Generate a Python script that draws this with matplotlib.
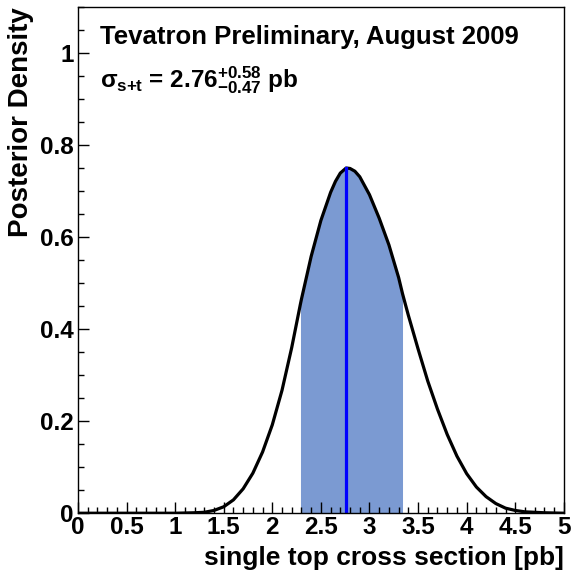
import numpy as np
import matplotlib.pyplot as plt
from matplotlib.ticker import MultipleLocator, FuncFormatter

plt.rcParams['font.family'] = ['Liberation Sans', 'DejaVu Sans']
plt.rcParams['font.weight'] = 'bold'
plt.rcParams['mathtext.fontset'] = 'custom'
plt.rcParams['mathtext.rm'] = 'Liberation Sans:bold'
plt.rcParams['mathtext.it'] = 'Liberation Sans:bold'
plt.rcParams['mathtext.bf'] = 'Liberation Sans:bold'

# posterior density
xs = [0.0, 0.5, 1.0, 1.2, 1.3, 1.4, 1.5, 1.6, 1.7, 1.8, 1.9, 2.0, 2.1, 2.2,
      2.29, 2.3, 2.4, 2.5, 2.6, 2.65, 2.7, 2.76, 2.8, 2.85, 2.9, 3.0, 3.1,
      3.2, 3.3, 3.34, 3.4, 3.5, 3.6, 3.7, 3.8, 3.9, 4.0, 4.1, 4.2, 4.3, 4.4,
      4.5, 4.6, 4.8, 5.0]
dens = [0.0, 0.0, 0.0, 0.001, 0.002, 0.006, 0.014, 0.029, 0.053, 0.087,
        0.133, 0.192, 0.267, 0.360, 0.455, 0.465, 0.558, 0.636, 0.697, 0.721,
        0.739, 0.750, 0.749, 0.743, 0.731, 0.692, 0.641, 0.583, 0.512, 0.477,
        0.430, 0.357, 0.287, 0.226, 0.171, 0.124, 0.086, 0.057, 0.036, 0.021,
        0.011, 0.006, 0.003, 0.001, 0.0]
central = 2.76
err_up = 0.58
err_dn = 0.47

xs = np.array(xs)
dens = np.array(dens)

fig = plt.figure(figsize=(5.73, 5.76), dpi=100)
ax = fig.add_axes([0.136, 0.109, 0.848, 0.879])

band = (xs >= central - err_dn - 1e-9) & (xs <= central + err_up + 1e-9)
ax.fill_between(xs, 0, dens, where=band, color='#7b9ad2', lw=0)
ax.plot(xs, dens, color='black', lw=2.3, solid_joinstyle='round')
ax.plot([central, central], [0, dens[xs == central][0]], color='#0000ff', lw=2.3)

ax.set_xlim(0, 5)
ax.set_ylim(0, 1.1)
ax.xaxis.set_major_locator(MultipleLocator(0.5))
ax.xaxis.set_minor_locator(MultipleLocator(0.1))
ax.yaxis.set_major_locator(MultipleLocator(0.2))
ax.yaxis.set_minor_locator(MultipleLocator(0.05))
fmt = FuncFormatter(lambda v, p: ('%g' % round(v, 2)))
ax.xaxis.set_major_formatter(fmt)
ax.yaxis.set_major_formatter(fmt)
ax.tick_params(which='both', direction='in', top=False, right=False, width=1)
ax.tick_params(which='major', length=8, labelsize=17.5)
ax.tick_params(axis='x', which='major', pad=2)
ax.tick_params(axis='y', which='major', pad=3)
ax.tick_params(which='minor', length=4)
for s in ax.spines.values():
    s.set_linewidth(1)

ax.set_xlabel('single top cross section [pb]', fontsize=19, fontweight='bold',
              loc='right', labelpad=5)
ax.set_ylabel('Posterior Density', fontsize=20, fontweight='bold',
              loc='top', labelpad=4)

ax.text(0.045, 0.94, 'Tevatron Preliminary, August 2009', transform=ax.transAxes,
        fontsize=18.5, fontweight='bold', va='center')
ax.text(0.045, 0.855, r'$\sigma_{s{+}t}$ = 2.76$^{+0.58}_{-0.47}$ pb',
        transform=ax.transAxes, fontsize=17.5, fontweight='bold', va='center')

fig.savefig('out.png', dpi=100)
